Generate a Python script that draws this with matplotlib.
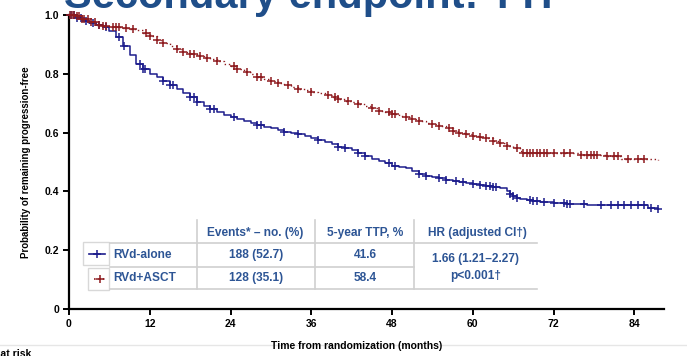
import numpy as np
import matplotlib
matplotlib.use("Agg")
import matplotlib.pyplot as plt

plt.rcParams['font.family'] = ['Liberation Sans', 'DejaVu Sans']

# step points (months, probability)
alone_t = [0, 1, 2, 3, 4, 5, 6, 7, 8, 9, 10, 11, 12, 13, 14, 15, 16, 17, 18, 19, 20, 21, 22,
           23, 24, 25, 26, 27, 28, 29, 30, 31, 32, 33, 34, 35, 36, 37, 38, 39, 40, 41, 42,
           43, 44, 45, 46, 47, 48, 49, 50, 51, 52, 53, 54, 55, 56, 57, 58, 59, 60, 61, 62,
           63, 64, 65, 65.5, 66, 66.5, 67, 68, 69, 70, 72, 74, 77, 80, 86, 87.5]
alone_s = [1.0, 0.99, 0.98, 0.972, 0.965, 0.958, 0.945, 0.925, 0.895, 0.865, 0.835, 0.815,
           0.80, 0.788, 0.775, 0.762, 0.75, 0.736, 0.72, 0.705, 0.692, 0.68, 0.67, 0.66,
           0.652, 0.646, 0.64, 0.633, 0.626, 0.62, 0.615, 0.609, 0.603, 0.599, 0.595, 0.589,
           0.583, 0.576, 0.568, 0.56, 0.552, 0.546, 0.54, 0.53, 0.52, 0.511, 0.503, 0.495,
           0.488, 0.483, 0.478, 0.469, 0.46, 0.454, 0.448, 0.444, 0.44, 0.436, 0.433, 0.429,
           0.425, 0.421, 0.418, 0.414, 0.41, 0.40, 0.39, 0.383, 0.378, 0.374, 0.37, 0.367,
           0.364, 0.361, 0.358, 0.355, 0.353, 0.345, 0.34]
asct_t = [0, 1, 2, 3, 4, 5, 6, 7, 8, 9, 10, 11, 12, 13, 14, 15, 16, 17, 18, 19, 20, 21, 22,
          23, 24, 25, 26, 27, 28, 29, 30, 31, 32, 33, 34, 35, 36, 37, 38, 39, 40, 41, 42,
          43, 44, 45, 46, 47, 48, 49, 50, 51, 52, 53, 54, 55, 56, 57, 58, 59, 60, 61, 62,
          63, 64, 65, 66, 67, 67.5, 70, 72, 76, 80, 82, 87.5]
asct_s = [1.0, 0.995, 0.985, 0.975, 0.967, 0.963, 0.96, 0.958, 0.955, 0.952, 0.948, 0.94,
          0.928, 0.915, 0.905, 0.895, 0.885, 0.875, 0.866, 0.86, 0.855, 0.849, 0.842, 0.834,
          0.825, 0.815, 0.806, 0.798, 0.79, 0.782, 0.775, 0.768, 0.762, 0.756, 0.75, 0.744,
          0.738, 0.733, 0.728, 0.721, 0.715, 0.709, 0.703, 0.697, 0.69, 0.682, 0.675, 0.669,
          0.663, 0.658, 0.652, 0.646, 0.64, 0.634, 0.628, 0.622, 0.615, 0.607, 0.60, 0.595,
          0.59, 0.585, 0.58, 0.573, 0.565, 0.556, 0.548, 0.538, 0.532, 0.531, 0.53, 0.525,
          0.52, 0.51, 0.508]

# censoring times
alone_cens = [0.3, 0.8, 1.2, 1.8, 2.5, 3.5, 4.5, 5.5, 7.5, 8.2, 10.5, 11, 11.3, 14, 15, 15.5,
              18, 18.5, 19, 21, 21.5, 24.5, 28, 28.5, 32, 34, 37, 40, 41, 43, 44, 47.5, 48.5,
              52, 53, 55, 56, 57.5, 58.5, 60, 61, 62, 62.5, 63, 63.5, 65.5, 66, 66.5, 68.5,
              69, 69.5, 70.5, 72, 73.5, 74, 74.5, 76.5, 79, 80.5, 81.5, 82.5, 83.5, 84.5,
              85.5, 86.5, 87.5]
asct_cens = [0.2, 0.5, 0.8, 1.2, 1.5, 2, 2.3, 2.8, 3.2, 3.8, 4.5, 5, 5.5, 6.5, 7, 7.5, 8.5,
             9.5, 11.5, 12, 13, 14, 16, 17, 18, 18.5, 19.5, 20.5, 22, 24.5, 25, 26.5, 28,
             28.5, 30, 31, 32.5, 34, 36, 38.5, 39.5, 40, 41.5, 43, 45, 46, 47.5, 48, 48.5,
             50, 51, 52, 54, 55, 56.5, 57, 58, 59, 60, 61, 62, 63, 64, 65, 66.5, 67.5, 68,
             68.5, 69, 69.5, 70, 70.5, 71, 72, 73.5, 74.5, 76, 77, 77.5, 78, 78.5, 80, 81,
             81.5, 83, 84.5, 85.5]

groups = ['RVd-alone', 'RVd+ASCT']
events = ['188 (52.7)', '128 (35.1)']
ttp5 = ['41.6', '58.4']
hr_text = ['1.66 (1.21\u20132.27)', 'p<0.001\u2020']
xticks = [0, 12, 24, 36, 48, 60, 72, 84]
yticks = [0, 0.2, 0.4, 0.6, 0.8, 1.0]
ylabels = ['0', '0.2', '0.4', '0.6', '0.8', '1.0']

BLUE = '#1c1c8c'
RED = '#8e1b1f'
TXT = '#2d5595'

W, H = 687, 356
fig = plt.figure(figsize=(W / 100, H / 100), dpi=100)
ax = fig.add_axes([69 / W, 1 - 309 / H, (664 - 69) / W, (309 - 15) / H])
ax.patch.set_alpha(0)


def step_at(t, s, x):
    idx = np.searchsorted(t, x, side='right') - 1
    return np.array(s)[idx]


ax.step(alone_t, alone_s, where='post', color=BLUE, lw=1.1, clip_on=False, zorder=3)
ax.plot(alone_cens, step_at(alone_t, alone_s, alone_cens), ls='none', marker='+',
        ms=6, mew=1.1, color=BLUE, clip_on=False, zorder=3)
ax.step(asct_t, asct_s, where='post', color=RED, lw=1.0, ls=(0, (1, 2)), clip_on=False, zorder=3)
ax.plot(asct_cens, step_at(asct_t, asct_s, asct_cens), ls='none', marker='+',
        ms=6, mew=1.1, color=RED, clip_on=False, zorder=3)

ax.set_xlim(0, 88.4)
ax.set_ylim(0, 1.0)
for sp in ['top', 'right']:
    ax.spines[sp].set_visible(False)
for sp in ['left', 'bottom']:
    ax.spines[sp].set_linewidth(1.6)
ax.set_xticks(xticks)
ax.set_xticklabels([str(v) for v in xticks], fontweight='bold', fontsize=7.5,
                   family=['Liberation Sans Narrow', 'Liberation Sans'])
ax.set_yticks(yticks)
ax.set_yticklabels(ylabels, fontweight='bold', fontsize=7.5)
ax.tick_params(direction='out', length=4, width=1.4, pad=3)
ax.set_ylabel('Probability of remaining progression-free', fontweight='bold',
              fontsize=7, labelpad=10)


def fx(px):
    return px / W


def fy(py):
    return 1 - py / H


# title, cut off by the top edge as in the slide
fig.text(fx(64), fy(8), 'Secondary endpoint: TTP', fontsize=30, fontweight='bold',
         color='#1f4e89', va='baseline', ha='left', zorder=-1)

# table lines
lc = '#d0d0d0'
for y0, x0, x1 in [(243, 110, 537), (267, 110, 414), (289, 110, 537)]:
    fig.add_artist(plt.Line2D([fx(x0), fx(x1)], [fy(y0), fy(y0)], color=lc, lw=1.2))
for x0 in [197, 315, 414]:
    fig.add_artist(plt.Line2D([fx(x0), fx(x0)], [fy(220), fy(289)], color=lc, lw=1.2))

# legend boxes
for (x0, y0, x1, y1), col, ls in [((83, 242, 109, 265), BLUE, '-'), ((88, 268, 109, 290), RED, ':')]:
    fig.add_artist(plt.Rectangle((fx(x0), fy(y1)), fx(x1 - x0), (y1 - y0) / H,
                                 fill=False, ec='#d8d8d8', lw=1))
    cy = (y0 + y1) / 2
    fig.add_artist(plt.Line2D([fx(x0 + 6), fx(x1 - 4)], [fy(cy), fy(cy)], color=col, lw=1.2, ls=ls))
    fig.add_artist(plt.Line2D([fx((x0 + x1) / 2 + 1)], [fy(cy)], marker='+', ms=6, mew=1.1, color=col))

tk = dict(fontweight='bold', fontsize=8.6, color=TXT, va='center')
fig.text(fx(255), fy(233), 'Events* \u2013 no. (%)', ha='center', **tk)
fig.text(fx(365), fy(233), '5-year TTP, %', ha='center', **tk)
fig.text(fx(477), fy(233), 'HR (adjusted CI\u2020)', ha='center', **tk)
for i, yy in enumerate([255, 278]):
    fig.text(fx(113), fy(yy), groups[i], ha='left', **tk)
    fig.text(fx(256), fy(yy), events[i], ha='center', **tk)
    fig.text(fx(365), fy(yy), ttp5[i], ha='center', **tk)
fig.text(fx(476), fy(259), hr_text[0], ha='center', **tk)
fig.text(fx(476), fy(276), hr_text[1], ha='center', **tk)

# faint risk-table rule and cut-off caption
fig.add_artist(plt.Line2D([0, 1], [fy(345), fy(345)], color='#e6e6e6', lw=1))
fig.text(fx(357), fy(346), 'Time from randomization (months)', ha='center', va='center',
         fontweight='bold', fontsize=7.5, family=['Liberation Sans Narrow', 'Liberation Sans'])
fig.text(fx(31), fy(349), 'Patients at risk', ha='right', va='top', fontweight='bold', fontsize=7.5)

fig.savefig('out.png', dpi=100)
